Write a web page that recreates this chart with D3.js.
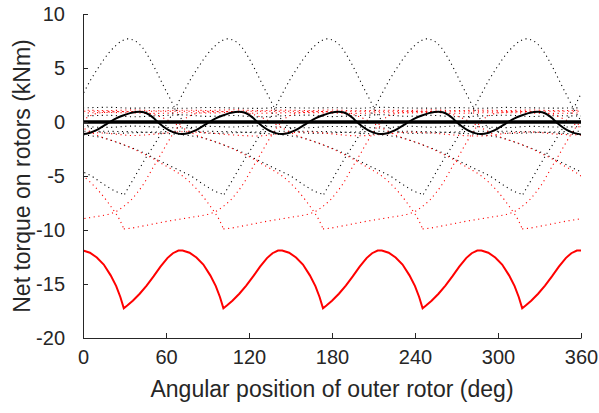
<!DOCTYPE html>
<html>
<head>
<meta charset="utf-8">
<script src="https://cdn.jsdelivr.net/npm/d3@7"></script>
<style>
  body { margin: 0; background: #fff; }
  text { font-family: "Liberation Sans", Arial, sans-serif; fill: #262626; }
</style>
</head>
<body>
<div id="chart"></div>
<script>
// ---- data ----
var xTicks = [0, 60, 120, 180, 240, 300, 360];
var yTicks = [-20, -15, -10, -5, 0, 5, 10];

// net torque, red rotor (solid red)
var redNetDeg = [0,5,10,15,20,24,27,29.5,32,36,41,46,51,56,61,65,69,
  72,77,82,87,92,96,99,101.5,104,108,113,118,123,128,133,137,141,
  144,149,154,159,164,168,171,173.5,176,180,185,190,195,200,205,209,213,
  216,221,226,231,236,240,243,245.5,248,252,257,262,267,272,277,281,285,
  288,293,298,303,308,312,315,317.5,320,324,329,334,339,344,349,353,357,360];
var redNetVal = [-11.9,-12.1,-12.55,-13.2,-14.2,-15.2,-16.2,-17.25,-17.0,-16.55,-15.9,-15.15,-14.3,-13.4,-12.6,-12.15,-11.9,
  -11.9,-12.1,-12.55,-13.2,-14.2,-15.2,-16.2,-17.25,-17.0,-16.55,-15.9,-15.15,-14.3,-13.4,-12.6,-12.15,-11.9,
  -11.9,-12.1,-12.55,-13.2,-14.2,-15.2,-16.2,-17.25,-17.0,-16.55,-15.9,-15.15,-14.3,-13.4,-12.6,-12.15,-11.9,
  -11.9,-12.1,-12.55,-13.2,-14.2,-15.2,-16.2,-17.25,-17.0,-16.55,-15.9,-15.15,-14.3,-13.4,-12.6,-12.15,-11.9,
  -11.9,-12.1,-12.55,-13.2,-14.2,-15.2,-16.2,-17.25,-17.0,-16.55,-15.9,-15.15,-14.3,-13.4,-12.6,-12.15,-11.9,-11.9];

// net torque, black rotor (solid black wave)
var blackNetDeg = [0,4,8,12,16,19.5,24,29,34,38,41,44,48,51,54,58,62,66,70,
  72,76,80,84,88,91.5,96,101,106,110,113,116,120,123,126,130,134,138,142,
  144,148,152,156,160,163.5,168,173,178,182,185,188,192,195,198,202,206,210,214,
  216,220,224,228,232,235.5,240,245,250,254,257,260,264,267,270,274,278,282,286,
  288,292,296,300,304,307.5,312,317,322,326,329,332,336,339,342,346,350,354,358,360];
var blackNetVal = [-1.12,-1.05,-0.85,-0.58,-0.27,0,0.33,0.6,0.82,0.93,0.96,0.9,0.66,0.36,0,-0.42,-0.76,-0.98,-1.1,
  -1.12,-1.05,-0.85,-0.58,-0.27,0,0.33,0.6,0.82,0.93,0.96,0.9,0.66,0.36,0,-0.42,-0.76,-0.98,-1.1,
  -1.12,-1.05,-0.85,-0.58,-0.27,0,0.33,0.6,0.82,0.93,0.96,0.9,0.66,0.36,0,-0.42,-0.76,-0.98,-1.1,
  -1.12,-1.05,-0.85,-0.58,-0.27,0,0.33,0.6,0.82,0.93,0.96,0.9,0.66,0.36,0,-0.42,-0.76,-0.98,-1.1,
  -1.12,-1.05,-0.85,-0.58,-0.27,0,0.33,0.6,0.82,0.93,0.96,0.9,0.66,0.36,0,-0.42,-0.76,-0.98,-1.1,-1.15];

var zeroDeg = [0, 360];
var zeroVal = [0, 0];

// single piece torque (dotted), one curve per piece, shape vs. angle after its minimum
var blackPieceT = [0,5,10,16,23,30,36,42,48,54,60,65,70,74,79,85,90,95,100,104,108,113,118,124,
  135,160,190,220,245,262,272,287,301,311,320,328,336,343,349,354,360];
var blackPieceV = [-6.7,-5.6,-4.5,-3.2,-1.8,-0.3,1.1,2.6,4.0,5.2,6.3,7.0,7.5,7.7,7.55,6.9,5.9,4.7,3.4,2.4,1.4,0.3,-0.4,-0.85,
  -1.05,-0.95,-0.85,-0.9,-1.05,-1.25,-1.45,-2.1,-2.8,-3.45,-4.0,-4.5,-5.0,-5.6,-6.1,-6.45,-6.7];
var blackPieceMin = [30, 102, 174, 246, 318];

var redPieceT = [0,4,15,31,50,62,67,71,77,82,87,91,95,99,103,107,111,115,120,127,140,180,225,240,255,265,
  272,287,300,308,316,323,330,336,342,348,353,357,360];
var redPieceV = [-9.9,-9.85,-9.6,-9.2,-8.8,-8.5,-8.25,-7.9,-7.25,-6.5,-5.6,-4.7,-3.8,-2.95,-2.05,-1.2,-0.45,0.15,0.6,0.85,0.95,1.0,0.95,0.6,-0.3,-1.0,
  -1.4,-2.05,-2.8,-3.3,-3.9,-4.4,-4.95,-5.6,-6.4,-7.35,-8.25,-9.05,-9.9];
var redPieceMin = [29.5, 101.5, 173.5, 245.5, 317.5];

// nearly flat dotted lines in the band round zero
var bandDeg = [0,18,36,54,72,90,108,126,144,162,180,198,216,234,252,270,288,306,324,342,360];
var bandRedA = [1.10,1.06,1.12,1.04,1.09,1.07,1.13,1.05,1.10,1.06,1.11,1.04,1.09,1.07,1.12,1.05,1.10,1.06,1.11,1.05,1.09];
var bandRedB = [0.82,0.88,0.84,0.80,0.86,0.83,0.89,0.81,0.85,0.87,0.83,0.80,0.86,0.84,0.88,0.81,0.85,0.86,0.83,0.80,0.84];
var bandRedC = [-0.95,-1.05,-1.25,-1.1,-0.9,-1.0,-1.2,-1.3,-1.05,-0.92,-1.1,-1.28,-1.15,-0.95,-1.02,-1.22,-1.3,-1.05,-0.93,-1.12,-1.2];
var bandBlkA = [1.30,1.36,1.28,1.33,1.27,1.35,1.30,1.26,1.34,1.29,1.32,1.27,1.36,1.30,1.28,1.33,1.27,1.35,1.31,1.28,1.32];
var bandBlkB = [0.55,0.62,0.48,0.58,0.66,0.52,0.60,0.47,0.57,0.64,0.50,0.59,0.67,0.53,0.61,0.48,0.56,0.63,0.51,0.58,0.55];
var bandBlkC = [-0.42,-0.50,-0.38,-0.47,-0.55,-0.40,-0.46,-0.36,-0.49,-0.53,-0.41,-0.45,-0.56,-0.39,-0.48,-0.37,-0.44,-0.52,-0.40,-0.47,-0.43];

// ---- drawing ----
var W = 599, H = 413;
var x = d3.scaleLinear().domain([0, 360]).range([83, 581]);
var y = d3.scaleLinear().domain([-20, 10]).range([338, 14]);

var svg = d3.select('#chart').append('svg').attr('width', W).attr('height', H);

svg.append('clipPath').attr('id', 'plot')
  .append('rect').attr('x', x(0)).attr('y', y(10)).attr('width', x(360) - x(0)).attr('height', y(-20) - y(10));

var plot = svg.append('g').attr('clip-path', 'url(#plot)');

var line = d3.line().x(function (d) { return x(d[0]); }).y(function (d) { return y(d[1]); })
  .curve(d3.curveMonotoneX);
var lineLin = d3.line().x(function (d) { return x(d[0]); }).y(function (d) { return y(d[1]); });

function pairs(xs, ys) { return xs.map(function (v, i) { return [v, ys[i]]; }); }

function dotted(pts, color) {
  plot.append('path').attr('d', line(pts))
    .attr('fill', 'none').attr('stroke', color).attr('stroke-width', 1.1)
    .attr('stroke-dasharray', '1.1,3.6');
}

// band
[bandBlkA, bandBlkB, bandBlkC].forEach(function (v) { dotted(pairs(bandDeg, v), '#000'); });

// black pieces, each drawn over the window it covers
blackPieceMin.forEach(function (m) {
  [m - 360, m].forEach(function (o) {
    dotted(blackPieceT.map(function (t, i) { return [o + t, blackPieceV[i]]; }), '#000');
  });
});

[bandRedA, bandRedB, bandRedC].forEach(function (v) { dotted(pairs(bandDeg, v), '#ff0000'); });

redPieceMin.forEach(function (m) {
  [m - 360, m].forEach(function (o) {
    dotted(redPieceT.map(function (t, i) { return [o + t, redPieceV[i]]; }), '#ff0000');
  });
});

// solid lines
plot.append('path').attr('d', lineLin(pairs(zeroDeg, zeroVal)))
  .attr('fill', 'none').attr('stroke', '#000').attr('stroke-width', 3.3);
plot.append('path').attr('d', line(pairs(blackNetDeg, blackNetVal)))
  .attr('fill', 'none').attr('stroke', '#000').attr('stroke-width', 2);
plot.append('path').attr('d', lineLin(pairs(redNetDeg, redNetVal)))
  .attr('fill', 'none').attr('stroke', '#ff0000').attr('stroke-width', 2);

// axes
var gx = svg.append('g').attr('transform', 'translate(0,' + y(-20) + ')')
  .call(d3.axisBottom(x).tickValues(xTicks).tickSizeInner(-5).tickSizeOuter(0).tickPadding(12)
    .tickFormat(function (d) { return String(d); }));
var gy = svg.append('g').attr('transform', 'translate(' + x(0) + ',0)')
  .call(d3.axisLeft(y).tickValues(yTicks).tickSizeInner(-5).tickSizeOuter(0).tickPadding(18)
    .tickFormat(function (d) { return String(d); }));

[gx, gy].forEach(function (g) {
  g.attr('font-size', 20).attr('font-family', null);
  g.selectAll('path, line').attr('stroke', '#262626');
  g.selectAll('text').attr('fill', '#262626');
});

svg.append('text').attr('x', (x(0) + x(360)) / 2).attr('y', 397)
  .attr('text-anchor', 'middle').attr('font-size', 23)
  .text('Angular position of outer rotor (deg)');

svg.append('text').attr('transform', 'translate(30,' + (y(10) + y(-20)) / 2 + ') rotate(-90)')
  .attr('text-anchor', 'middle').attr('font-size', 23)
  .text('Net torque on rotors (kNm)');
</script>
</body>
</html>
